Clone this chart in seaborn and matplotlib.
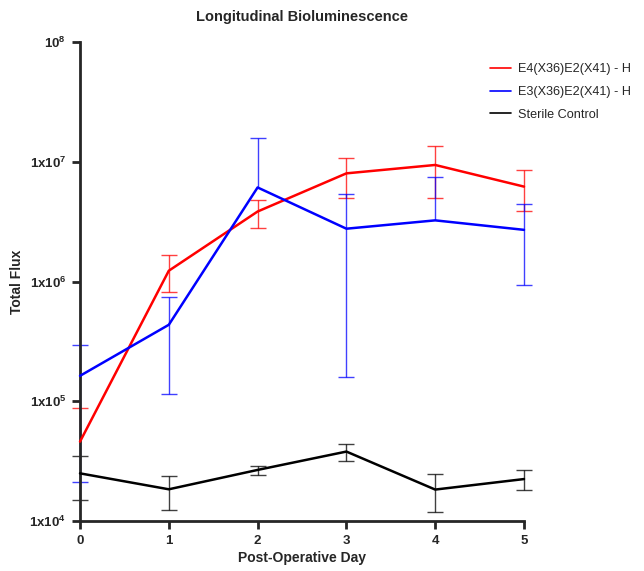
import numpy as np
import pandas as pd
import matplotlib
matplotlib.use("Agg")
import matplotlib.pyplot as plt
import seaborn as sns

# ---- data ----
days = [0, 1, 2, 3, 4, 5]
series_names = ["E4(X36)E2(X41) - H", "E3(X36)E2(X41) - H", "Sterile Control"]
series_colors = ["#ff0000", "#0000ff", "#000000"]

e4_mean = [4.6e4, 1.23e6, 3.84e6, 8.0e6, 9.4e6, 6.2e6]
e4_low = [np.nan, 8.1e5, 2.82e6, 5.0e6, 5.0e6, 3.9e6]
e4_high = [8.7e4, 1.66e6, 4.8e6, 1.08e7, 1.36e7, 8.5e6]

e3_mean = [1.63e5, 4.35e5, 6.1e6, 2.76e6, 3.24e6, 2.7e6]
e3_low = [2.1e4, 1.15e5, np.nan, 1.58e5, np.nan, 9.4e5]
e3_high = [2.96e5, 7.4e5, 1.57e7, 5.36e6, 7.4e6, 4.4e6]

ctl_mean = [2.5e4, 1.84e4, 2.67e4, 3.8e4, 1.83e4, 2.24e4]
ctl_low = [1.5e4, 1.23e4, 2.4e4, 3.2e4, 1.19e4, 1.8e4]
ctl_high = [3.5e4, 2.38e4, 2.9e4, 4.37e4, 2.47e4, 2.65e4]

y_ticks = [1e4, 1e5, 1e6, 1e7, 1e8]
y_ticklabels = [r"$1x10^{4}$", r"$1x10^{5}$", r"$1x10^{6}$", r"$1x10^{7}$", r"$10^{8}$"]
x_ticks = days

# ---- style ----
sns.set_style("ticks")
plt.rcParams["font.family"] = ["Liberation Sans", "DejaVu Sans"]
plt.rcParams["mathtext.fontset"] = "custom"
plt.rcParams["mathtext.rm"] = "Liberation Sans:weight=bold"
plt.rcParams["mathtext.it"] = "Liberation Sans:weight=bold"
plt.rcParams["mathtext.bf"] = "Liberation Sans:weight=bold"
plt.rcParams["mathtext.default"] = "rm"

means = [e4_mean, e3_mean, ctl_mean]
lows = [e4_low, e3_low, ctl_low]
highs = [e4_high, e3_high, ctl_high]

df = pd.concat([
    pd.DataFrame({"Day": days, "Flux": m, "Group": n})
    for m, n in zip(means, series_names)
], ignore_index=True)

fig = plt.figure(figsize=(6.44, 5.71), dpi=100)
ax = fig.add_axes([80 / 644, 1 - 521 / 571, 444 / 644, 479 / 571])

sns.lineplot(data=df, x="Day", y="Flux", hue="Group", hue_order=series_names,
             palette=series_colors, errorbar=None, linewidth=1.8, ax=ax,
             legend=False)
for ln, z in zip(ax.get_lines(), [4, 5, 3]):
    ln.set_zorder(z)
    ln.set_clip_on(False)

for m, lo, hi, c in zip(means, lows, highs, series_colors):
    m = np.array(m)
    lo = np.array(lo)
    hi = np.array(hi)
    bottom = np.where(np.isnan(lo), m, lo)
    ax.vlines(days, bottom, hi, colors=c, linewidth=1.0, alpha=0.75,
              zorder=2, clip_on=False)
    ax.plot(days, hi, linestyle="none", marker="_", markersize=12,
            markeredgewidth=1.0, color=c, alpha=0.75, zorder=2, clip_on=False)
    ax.plot(days, lo, linestyle="none", marker="_", markersize=12,
            markeredgewidth=1.0, color=c, alpha=0.75, zorder=2, clip_on=False)

ax.set_yscale("log")
ax.set_ylim(1e4, 1e8)
ax.set_xlim(0, 5)
ax.set_yticks(y_ticks)
ax.set_yticklabels(y_ticklabels)
ax.yaxis.set_minor_locator(matplotlib.ticker.NullLocator())
ax.set_xticks(x_ticks)
ax.set_xticklabels([str(d) for d in x_ticks], fontweight="bold")
ax.tick_params(axis="both", width=2, length=6, labelsize=9.5, pad=4)

for s in ["top", "right"]:
    ax.spines[s].set_visible(False)
for s in ["left", "bottom"]:
    ax.spines[s].set_linewidth(2)

ax.set_xlabel("Post-Operative Day", fontsize=10, fontweight="bold", labelpad=3)
ax.set_ylabel("Total Flux", fontsize=10, fontweight="bold", labelpad=4)
ax.set_title("Longitudinal Bioluminescence", fontsize=10.5, fontweight="bold", pad=15)

handles = [matplotlib.lines.Line2D([], [], color=c, linewidth=1.2) for c in series_colors]
fig.legend(handles, series_names, loc="upper left",
           bbox_to_anchor=(479 / 644, 1 - 52 / 571), frameon=False,
           fontsize=9.1, handlelength=1.6, labelspacing=0.85, handletextpad=0.55)

fig.savefig("out.png", dpi=100)
